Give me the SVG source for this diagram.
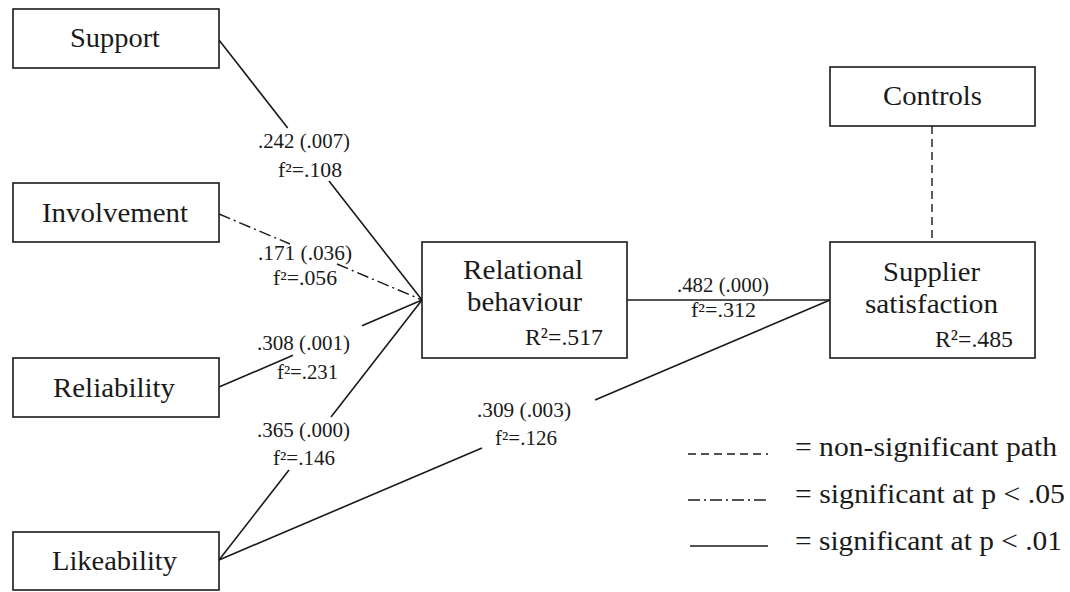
<svg xmlns="http://www.w3.org/2000/svg" width="1070" height="592" viewBox="0 0 1070 592">
  <style>
    .box { fill: #fff; stroke: #1a1a1a; stroke-width: 1.6; }
    .lbl { font-family: "Liberation Serif", "Times New Roman", serif; font-size: 28px; fill: #1a1a1a; }
    .r2 { font-family: "Liberation Serif", "Times New Roman", serif; font-size: 24px; fill: #1a1a1a; }
    .coef { font-family: "Liberation Serif", "Times New Roman", serif; font-size: 20px; fill: #1a1a1a; }
    .solid { stroke: #1a1a1a; stroke-width: 1.6; fill: none; }
    .dashdot { stroke: #1a1a1a; stroke-width: 1.4; fill: none; stroke-dasharray: 12 4 2 4; }
    .dashed { stroke: #1a1a1a; stroke-width: 1.4; fill: none; stroke-dasharray: 8 5; }
  </style>
  <rect width="1070" height="592" fill="#fff"/>

  <!-- paths between constructs -->
  <g id="connectors">
    <!-- Support -> Relational behaviour -->
    <line class="solid" x1="219" y1="40" x2="287.7" y2="128"/>
    <line class="solid" x1="329" y1="181" x2="422" y2="300"/>
    <!-- Involvement -> Relational behaviour -->
    <line class="dashdot" x1="219" y1="214" x2="290" y2="244"/>
    <line class="dashdot" x1="337" y1="264" x2="422" y2="300"/>
    <!-- Reliability -> Relational behaviour -->
    <line class="solid" x1="219" y1="387" x2="293" y2="355.3"/>
    <line class="solid" x1="362" y1="325.7" x2="422" y2="300"/>
    <!-- Likeability -> Relational behaviour -->
    <line class="solid" x1="219" y1="560" x2="289" y2="470"/>
    <line class="solid" x1="331" y1="417" x2="422" y2="300"/>
    <!-- Likeability -> Supplier satisfaction -->
    <line class="solid" x1="219" y1="560" x2="482" y2="448"/>
    <line class="solid" x1="595" y1="400" x2="830" y2="300"/>
    <!-- Relational behaviour -> Supplier satisfaction -->
    <line class="solid" x1="627" y1="300" x2="830" y2="300"/>
    <!-- Controls -> Supplier satisfaction -->
    <line class="dashed" x1="932" y1="126" x2="932" y2="242"/>
  </g>

  <!-- path coefficients -->
  <g id="coefficients">
    <text class="coef" x="258" y="148" textLength="92" lengthAdjust="spacingAndGlyphs">.242 (.007)</text>
    <text class="coef" x="278" y="177" textLength="64" lengthAdjust="spacingAndGlyphs">f²=.108</text>
    <text class="coef" x="258" y="260" textLength="94" lengthAdjust="spacingAndGlyphs">.171 (.036)</text>
    <text class="coef" x="273" y="285" textLength="64" lengthAdjust="spacingAndGlyphs">f²=.056</text>
    <text class="coef" x="257" y="350" textLength="93" lengthAdjust="spacingAndGlyphs">.308 (.001)</text>
    <text class="coef" x="277" y="379" textLength="61" lengthAdjust="spacingAndGlyphs">f²=.231</text>
    <text class="coef" x="257" y="437" textLength="93" lengthAdjust="spacingAndGlyphs">.365 (.000)</text>
    <text class="coef" x="273" y="465" textLength="62" lengthAdjust="spacingAndGlyphs">f²=.146</text>
    <text class="coef" x="477" y="417" textLength="94" lengthAdjust="spacingAndGlyphs">.309 (.003)</text>
    <text class="coef" x="495" y="445" textLength="62" lengthAdjust="spacingAndGlyphs">f²=.126</text>
    <text class="coef" x="677" y="292" textLength="92" lengthAdjust="spacingAndGlyphs">.482 (.000)</text>
    <text class="coef" x="691" y="317" textLength="65" lengthAdjust="spacingAndGlyphs">f²=.312</text>
  </g>

  <g id="support">
    <rect class="box" x="13" y="9" width="206" height="59"/>
    <text class="lbl" x="70" y="47" textLength="90" lengthAdjust="spacingAndGlyphs">Support</text>
  </g>
  <g id="involvement">
    <rect class="box" x="13" y="183" width="206" height="59"/>
    <text class="lbl" x="42" y="222" textLength="146" lengthAdjust="spacingAndGlyphs">Involvement</text>
  </g>
  <g id="reliability">
    <rect class="box" x="13" y="358" width="206" height="59"/>
    <text class="lbl" x="53" y="397" textLength="122" lengthAdjust="spacingAndGlyphs">Reliability</text>
  </g>
  <g id="likeability">
    <rect class="box" x="13" y="532" width="206" height="58"/>
    <text class="lbl" x="52" y="570" textLength="125" lengthAdjust="spacingAndGlyphs">Likeability</text>
  </g>
  <g id="relational-behaviour">
    <rect class="box" x="422" y="242" width="205" height="116"/>
    <text class="lbl" x="463" y="279" textLength="120" lengthAdjust="spacingAndGlyphs">Relational</text>
    <text class="lbl" x="467" y="311" textLength="115" lengthAdjust="spacingAndGlyphs">behaviour</text>
    <text class="r2" x="525" y="345" textLength="78" lengthAdjust="spacingAndGlyphs">R²=.517</text>
  </g>
  <g id="controls">
    <rect class="box" x="830" y="67" width="205" height="59"/>
    <text class="lbl" x="883" y="105" textLength="99" lengthAdjust="spacingAndGlyphs">Controls</text>
  </g>
  <g id="supplier-satisfaction">
    <rect class="box" x="830" y="242" width="205" height="116"/>
    <text class="lbl" x="883" y="281" textLength="97" lengthAdjust="spacingAndGlyphs">Supplier</text>
    <text class="lbl" x="865" y="313" textLength="133" lengthAdjust="spacingAndGlyphs">satisfaction</text>
    <text class="r2" x="935" y="347" textLength="78" lengthAdjust="spacingAndGlyphs">R²=.485</text>
  </g>

  <!-- key to line styles -->
  <g id="legend">
    <line class="dashed" x1="688" y1="454" x2="768" y2="454"/>
    <text class="lbl" x="795" y="456" textLength="262" lengthAdjust="spacingAndGlyphs">= non-significant path</text>
    <line class="dashdot" x1="688" y1="500" x2="768" y2="500"/>
    <text class="lbl" x="795" y="503" textLength="270" lengthAdjust="spacingAndGlyphs">= significant at p &lt; .05</text>
    <line class="solid" x1="690" y1="546" x2="768" y2="546"/>
    <text class="lbl" x="795" y="550" textLength="267" lengthAdjust="spacingAndGlyphs">= significant at p &lt; .01</text>
  </g>
</svg>
